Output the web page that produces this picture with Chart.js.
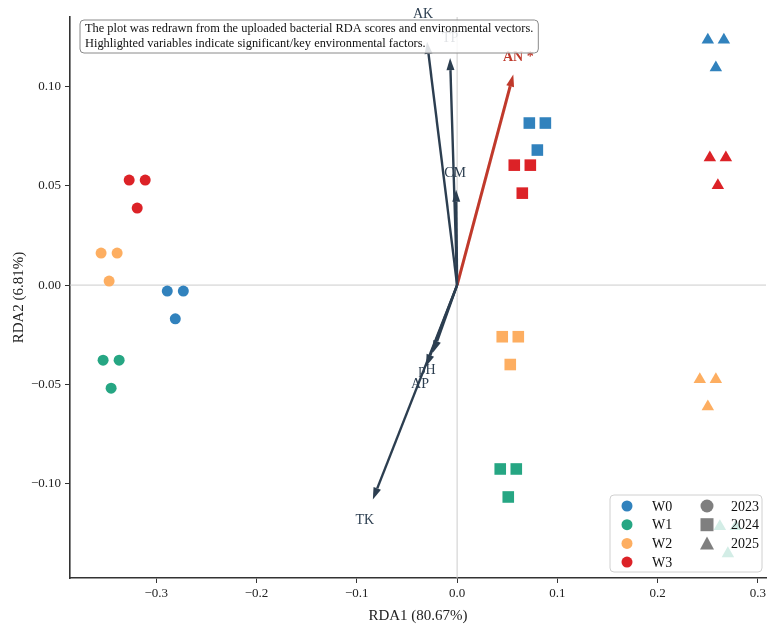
<!DOCTYPE html>
<html>
<head>
<meta charset="utf-8">
<script src="https://cdn.jsdelivr.net/npm/chart.js@4.4.1/dist/chart.umd.min.js"></script>
<style>
  html, body { margin: 0; padding: 0; background: #fff; }
  #wrap { width: 778px; height: 629px; position: relative; }
</style>
</head>
<body>
<div id="wrap"><canvas id="rdaChart" width="778" height="629"></canvas></div>
<script>
// --- sample scores (RDA1 / RDA2), 3 replicates per year ---
const groups = ['W0', 'W1', 'W2', 'W3'];
const years = ['2023', '2024', '2025'];
const groupColors = ['#3182bd', '#26a683', '#fdae61', '#dc2227'];
const yearShapes = ['circle', 'rect', 'triangle'];

const rda1W0 = [-0.289, -0.273, -0.281, 0.072, 0.088, 0.080, 0.250, 0.266, 0.258];
const rda2W0 = [-0.003, -0.003, -0.017, 0.0816, 0.0816, 0.068, 0.1235, 0.1235, 0.1095];
const rda1W1 = [-0.353, -0.337, -0.345, 0.043, 0.059, 0.051, 0.262, 0.278, 0.270];
const rda2W1 = [-0.0378, -0.0378, -0.0519, -0.0926, -0.0926, -0.1067, -0.1215, -0.1215, -0.1352];
const rda1W2 = [-0.355, -0.339, -0.347, 0.045, 0.061, 0.053, 0.242, 0.258, 0.250];
const rda2W2 = [0.0161, 0.0161, 0.002, -0.026, -0.026, -0.040, -0.0475, -0.0475, -0.0612];
const rda1W3 = [-0.327, -0.311, -0.319, 0.057, 0.073, 0.065, 0.252, 0.268, 0.260];
const rda2W3 = [0.0529, 0.0529, 0.0388, 0.0604, 0.0604, 0.0463, 0.0642, 0.0642, 0.0502];
const sampleYear = ['2023', '2023', '2023', '2024', '2024', '2024', '2025', '2025', '2025'];

// --- environmental vectors ---
const envNames = ['AK', 'TP', 'AN *', 'CM', 'pH', 'AP', 'TK'];
const envRDA1 = [-0.030, -0.007, 0.056, -0.001, -0.024, -0.031, -0.084];
const envRDA2 = [0.1225, 0.1143, 0.106, 0.048, -0.034, -0.041, -0.108];
const envLabelRDA1 = [-0.034, -0.007, 0.061, -0.002, -0.030, -0.037, -0.092];
const envLabelRDA2 = [0.1365, 0.1244, 0.1148, 0.0564, -0.0428, -0.0498, -0.1183];
const envKey = [false, false, true, false, false, false, false];

const xTicks = [-0.3, -0.2, -0.1, 0.0, 0.1, 0.2, 0.3];
const yTicks = [-0.10, -0.05, 0.00, 0.05, 0.10];

const noteLines = [
  'The plot was redrawn from the uploaded bacterial RDA scores and environmental vectors.',
  'Highlighted variables indicate significant/key environmental factors.'
];

const FONT = '"Liberation Serif", "DejaVu Serif", serif';
const minus = v => v.replace('-', '\u2212');

const scoreX = [rda1W0, rda1W1, rda1W2, rda1W3];
const scoreY = [rda2W0, rda2W1, rda2W2, rda2W3];

const datasets = [];
groups.forEach((g, gi) => {
  years.forEach((yr, yi) => {
    const pts = [];
    sampleYear.forEach((s, i) => {
      if (s === yr) pts.push({ x: scoreX[gi][i], y: scoreY[gi][i] });
    });
    const shape = yearShapes[yi];
    datasets.push({
      label: g + ' ' + yr,
      data: pts,
      pointStyle: shape,
      pointRadius: shape === 'circle' ? 5.5 : (shape === 'rect' ? 8.2 : 7.2),
      pointHoverRadius: 7,
      backgroundColor: groupColors[gi],
      borderColor: groupColors[gi],
      borderWidth: 0
    });
  });
});

// zero lines + arrows under the points, note + legend on top
const vectorPlugin = {
  id: 'vectors',
  beforeDatasetsDraw(chart) {
    const { ctx, chartArea: a, scales: { x, y } } = chart;
    ctx.save();
    ctx.strokeStyle = '#cccccc';
    ctx.lineWidth = 1;
    const x0 = x.getPixelForValue(0), y0 = y.getPixelForValue(0);
    ctx.beginPath();
    ctx.moveTo(x0, a.top); ctx.lineTo(x0, a.bottom);
    ctx.moveTo(a.left, y0); ctx.lineTo(a.right, y0);
    ctx.stroke();

    envNames.forEach((n, i) => {
      const col = envKey[i] ? '#c0392b' : '#2c3e50';
      const tx = x.getPixelForValue(envRDA1[i]), ty = y.getPixelForValue(envRDA2[i]);
      const ang = Math.atan2(ty - y0, tx - x0);
      const headL = 12, headW = 4;
      const bx = tx - headL * Math.cos(ang), by = ty - headL * Math.sin(ang);
      ctx.strokeStyle = col;
      ctx.fillStyle = col;
      ctx.lineWidth = envKey[i] ? 3 : 2.4;
      ctx.beginPath();
      ctx.moveTo(x0, y0); ctx.lineTo(bx, by);
      ctx.stroke();
      ctx.beginPath();
      ctx.moveTo(tx, ty);
      ctx.lineTo(bx + headW * Math.sin(ang), by - headW * Math.cos(ang));
      ctx.lineTo(bx - headW * Math.sin(ang), by + headW * Math.cos(ang));
      ctx.closePath();
      ctx.fill();
    });

    envNames.forEach((n, i) => {
      ctx.fillStyle = envKey[i] ? '#c0392b' : '#2c3e50';
      ctx.font = (envKey[i] ? 'bold ' : '') + '14px ' + FONT;
      ctx.textAlign = 'center';
      ctx.textBaseline = 'middle';
      ctx.fillText(n, x.getPixelForValue(envLabelRDA1[i]), y.getPixelForValue(envLabelRDA2[i]));
    });
    ctx.restore();
  },
  afterDraw(chart) {
    const { ctx } = chart;
    ctx.save();
    // note box
    ctx.font = '12.4px ' + FONT;
    const w = Math.max(...noteLines.map(l => ctx.measureText(l).width)) + 10;
    const bx = 80, by = 20, bh = 33;
    ctx.beginPath();
    ctx.roundRect(bx, by, w, bh, 4);
    ctx.fillStyle = 'rgba(255,255,255,0.85)';
    ctx.fill();
    ctx.strokeStyle = '#8a8a8a';
    ctx.lineWidth = 1;
    ctx.stroke();
    ctx.fillStyle = '#111';
    ctx.textBaseline = 'middle';
    ctx.textAlign = 'left';
    noteLines.forEach((l, i) => ctx.fillText(l, bx + 5, by + 9 + i * 15));

    // legend (two columns)
    const lx = 610, ly = 495, lw = 152, lh = 77;
    ctx.beginPath();
    ctx.roundRect(lx, ly, lw, lh, 4);
    ctx.fillStyle = 'rgba(255,255,255,0.8)';
    ctx.fill();
    ctx.strokeStyle = '#d0d0d0';
    ctx.stroke();
    ctx.font = '14px ' + FONT;
    groups.forEach((g, i) => {
      const yy = ly + 11 + i * 18.7;
      ctx.fillStyle = groupColors[i];
      ctx.beginPath();
      ctx.arc(lx + 17, yy, 5.5, 0, Math.PI * 2);
      ctx.fill();
      ctx.fillStyle = '#111';
      ctx.fillText(g, lx + 42, yy + 1);
    });
    years.forEach((yr, i) => {
      const yy = ly + 11 + i * 18.7;
      ctx.fillStyle = '#7f7f7f';
      ctx.beginPath();
      if (i === 0) ctx.arc(lx + 97, yy, 6.5, 0, Math.PI * 2);
      else if (i === 1) ctx.rect(lx + 90.5, yy - 6.5, 13, 13);
      else { ctx.moveTo(lx + 97, yy - 7); ctx.lineTo(lx + 104, yy + 6); ctx.lineTo(lx + 90, yy + 6); ctx.closePath(); }
      ctx.fill();
      ctx.fillStyle = '#111';
      ctx.fillText(yr, lx + 121, yy + 1);
    });
    ctx.restore();
  }
};

new Chart(document.getElementById('rdaChart'), {
  type: 'scatter',
  data: { datasets },
  options: {
    responsive: false,
    animation: false,
    layout: { padding: { top: 17, right: 12, left: 6, bottom: 0 } },
    plugins: { legend: { display: false }, tooltip: { enabled: false } },
    scales: {
      x: {
        type: 'linear',
        min: -0.386, max: 0.308,
        afterBuildTicks: s => { s.ticks = xTicks.map(v => ({ value: v })); },
        afterFit: s => { s.height = 51; },
        ticks: {
          color: '#222', font: { family: FONT, size: 13 }, padding: 3,
          callback: v => minus(v.toFixed(1))
        },
        grid: { drawOnChartArea: false, drawTicks: true, tickLength: 5, color: '#333', tickWidth: 1 },
        border: { display: true, color: '#333', width: 1.6 },
        title: { display: true, text: 'RDA1 (80.67%)', color: '#222', font: { family: FONT, size: 15 }, padding: { top: 2 } }
      },
      y: {
        type: 'linear',
        min: -0.1475, max: 0.135,
        afterBuildTicks: s => { s.ticks = yTicks.map(v => ({ value: v })); },
        afterFit: s => { s.width = 64; },
        ticks: {
          color: '#222', font: { family: FONT, size: 13 }, padding: 4,
          callback: v => minus(v.toFixed(2))
        },
        grid: { drawOnChartArea: false, drawTicks: true, tickLength: 5, color: '#333', tickWidth: 1 },
        border: { display: true, color: '#333', width: 1.6 },
        title: { display: true, text: 'RDA2 (6.81%)', color: '#222', font: { family: FONT, size: 15 }, padding: { bottom: 4 } }
      }
    }
  },
  plugins: [vectorPlugin]
});
</script>
</body>
</html>
